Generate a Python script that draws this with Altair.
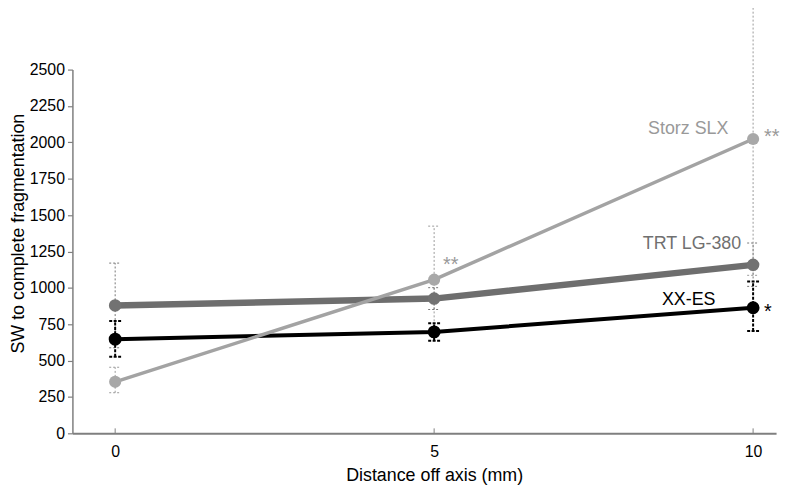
import altair as alt
import pandas as pd

# ---- data ----
distance = [0, 5, 10]
storz_mean = [354, 1056, 2023]
storz_lo = [279, 688, 1086]
storz_hi = [454, 1424, 2960]
trt_mean = [879, 926, 1158]
trt_lo = [588, 851, 1010]
trt_hi = [1170, 1001, 1308]
xx_mean = [647, 697, 863]
xx_lo = [527, 636, 704]
xx_hi = [772, 756, 1044]
storz_sig = ["", "**", "**"]
xx_sig = ["", "", "*"]
y_ticks = [0, 250, 500, 750, 1000, 1250, 1500, 1750, 2000, 2250, 2500]
x_ticks = [0, 5, 10]
x_title = "Distance off axis (mm)"
y_title = "SW to complete fragmentation"

FONT = "Liberation Sans"
W, H = 710, 367


def frame(mean, lo, hi, sig=None):
    return pd.DataFrame({"x": distance, "mean": mean, "lo": lo, "hi": hi,
                         "sig": sig if sig else [""] * len(distance)})


storz = frame(storz_mean, storz_lo, storz_hi, storz_sig)
trt = frame(trt_mean, trt_lo, trt_hi)
xx = frame(xx_mean, xx_lo, xx_hi, xx_sig)
ticks_df = pd.DataFrame({"x": x_ticks})

xs = alt.Scale(domain=[-0.67, 10.36], nice=False, zero=False)
ys = alt.Scale(domain=[0, 2500], nice=False, zero=False)

X_AX = alt.Axis(values=x_ticks, ticks=False, labelPadding=10, titlePadding=8,
                domainColor="#7f7f7f", domainWidth=2, labelAngle=0, format="d",
                titleX=365, titleAlign="center")
Y_AX = alt.Axis(values=y_ticks, tickSize=5, labelPadding=3, domainColor="#7f7f7f",
                tickColor="#7f7f7f", domainWidth=1.5, tickWidth=1.2, format="d",
                titleX=-49, titleY=165, titleAngle=270, titleBaseline="alphabetic",
                titleAlign="center")


def X(field="x"):
    return alt.X(f"{field}:Q", scale=xs, axis=X_AX, title=x_title)


def Y(field):
    return alt.Y(f"{field}:Q", scale=ys, axis=Y_AX, title=y_title)


def errbars(df, color, dash, width):
    base = alt.Chart(df)
    bar = base.mark_rule(color=color, strokeDash=dash, strokeWidth=width).encode(
        x=X(), y=Y("lo"), y2="hi")
    cap_lo = base.mark_rule(color=color, strokeDash=dash, strokeWidth=width,
                            xOffset=-6, x2Offset=6).encode(x=X(), x2="x", y=Y("lo"))
    cap_hi = base.mark_rule(color=color, strokeDash=dash, strokeWidth=width,
                            xOffset=-6, x2Offset=6).encode(x=X(), x2="x", y=Y("hi"))
    return [bar, cap_lo, cap_hi]


def line(df, color, width):
    return alt.Chart(df).mark_line(color=color, strokeWidth=width).encode(x=X(), y=Y("mean"))


def pts(df, color, size):
    return alt.Chart(df).mark_circle(color=color, size=size, opacity=1).encode(x=X(), y=Y("mean"))


def label(df, row, text, color, dx, dy, align, baseline="middle", size=18):
    return alt.Chart(df.iloc[[row]]).mark_text(
        text=text, color=color, dx=dx, dy=dy, align=align, baseline=baseline,
        font=FONT, fontSize=size).encode(x=X(), y=Y("mean"))


def sig(df, row, color, dx, dy):
    return alt.Chart(df.iloc[[row]]).mark_text(
        color=color, dx=dx, dy=dy, align="left", baseline="alphabetic",
        font=FONT, fontSize=20).encode(x=X(), y=Y("mean"), text="sig:N")


C_STORZ = "#a3a3a3"
C_TRT = "#6e6e6e"
C_XX = "#000000"

xticks = alt.Chart(ticks_df).mark_rule(color="#7f7f7f", strokeWidth=1).encode(
    x=X(), y=alt.value(H - 5), y2=alt.value(H))

layers = []
layers += errbars(storz, "#9a9a9a", [2, 2], 1)
layers += errbars(trt, "#777777", [2, 2], 1)
layers += errbars(xx, "#000000", [3, 1.5], 2)
layers += [xticks]
layers += [line(trt, C_TRT, 6.5), line(xx, C_XX, 4), line(storz, C_STORZ, 3.5)]
layers += [pts(trt, "#727272", 160), pts(xx, C_XX, 170), pts(storz, "#a8a8a8", 150)]
layers += [
    label(storz, 2, "Storz SLX", "#999999", -25, -10, "right"),
    label(trt, 2, "TRT LG-380", "#707070", -12, -21, "right"),
    label(xx, 2, "XX-ES", "#000000", -38, -8, "right"),
    sig(storz, 1, "#999999", 9, -9),
    sig(storz, 2, "#999999", 11, 4),
    sig(xx, 2, "#000000", 11, 10),
]

chart = alt.layer(*layers).properties(
    width=W, height=H,
    autosize=alt.AutoSizeParams(type="none"),
    padding={"left": 65, "top": 60, "right": 8, "bottom": 50},
    background="white",
).configure_view(stroke=None).configure_axis(
    grid=False, labelFont=FONT, titleFont=FONT, labelFontSize=16, titleFontSize=18,
    titleFontWeight="normal", labelColor="#000000", titleColor="#000000",
)

chart.save("out.html", embed_options={"renderer": "svg", "actions": False})
